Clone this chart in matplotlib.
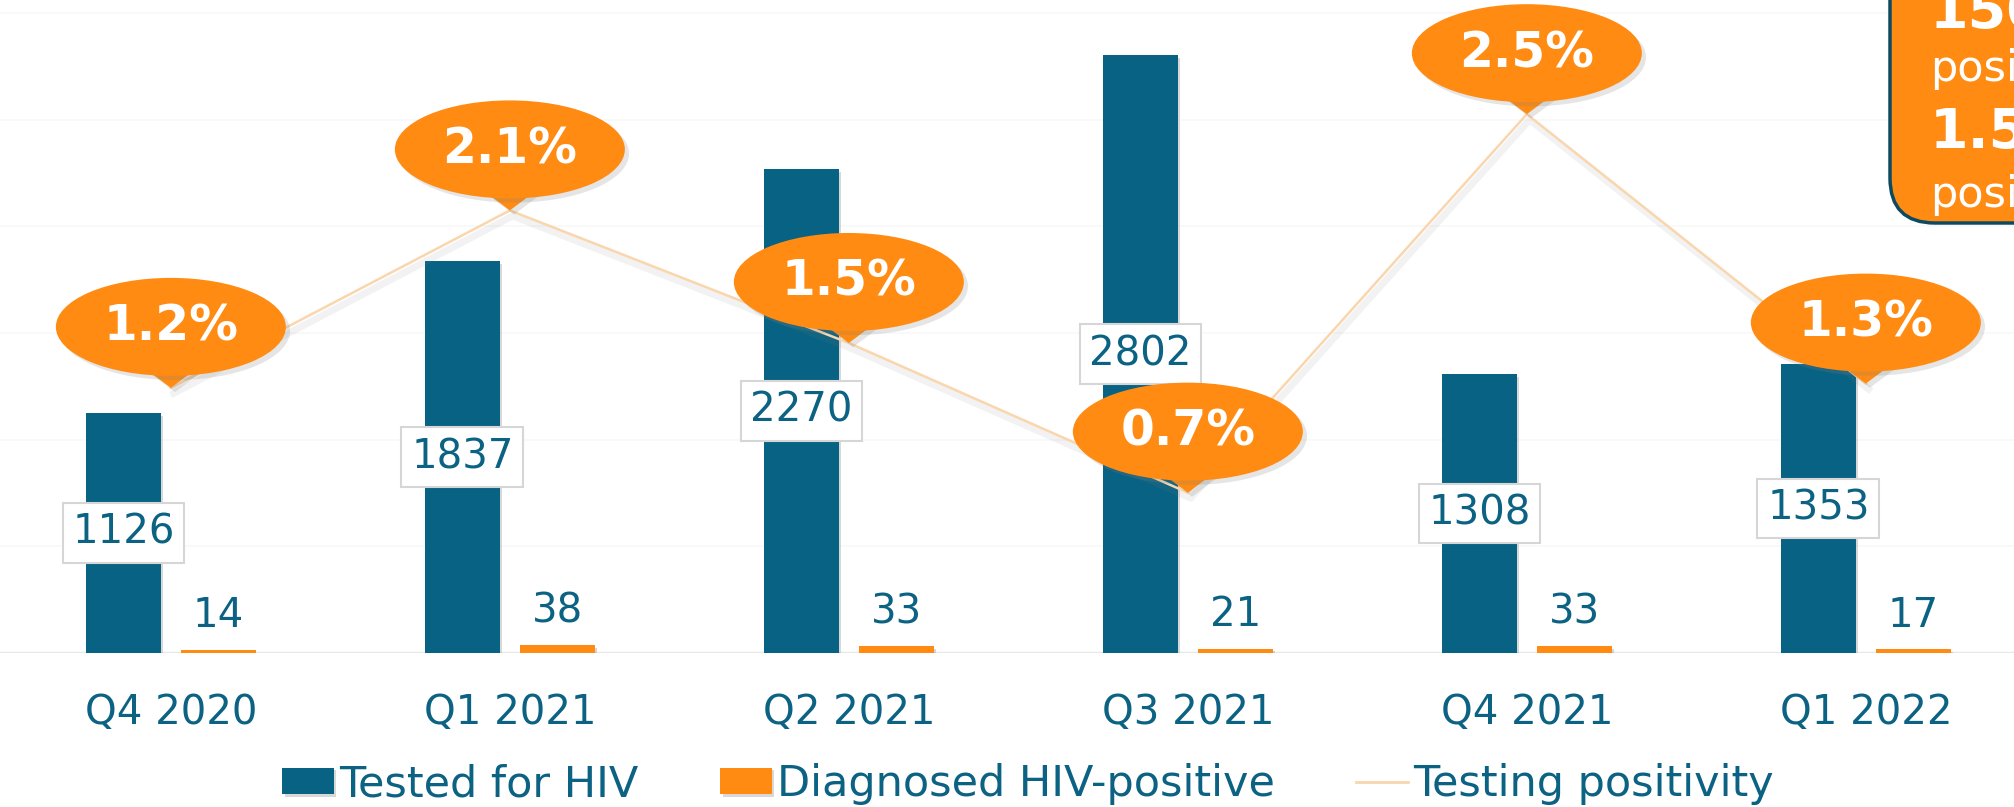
import numpy as np
import matplotlib.pyplot as plt
import matplotlib.patheffects as pe
from matplotlib.patches import Ellipse, Polygon, FancyBboxPatch
from matplotlib.lines import Line2D
from matplotlib.transforms import IdentityTransform

# data
quarters = ["Q4 2020", "Q1 2021", "Q2 2021", "Q3 2021", "Q4 2021", "Q1 2022"]
tested = [1126, 1837, 2270, 2802, 1308, 1353]
diagnosed = [14, 38, 33, 21, 33, 17]
positivity = [1.24, 2.07, 1.45, 0.75, 2.52, 1.26]  # percent
positivity_labels = ["1.2%", "2.1%", "1.5%", "0.7%", "2.5%", "1.3%"]

blue = "#086283"
orange = "#FF8B12"
teal_text = "#0B6282"
line_col = "#F9D6AE"

fig = plt.figure(figsize=(20.15, 8.07), dpi=100)
ax = fig.add_axes([0, 0.1908, 1, 0.8092])
ax.set_xlim(-0.504, 5.44)
ax.set_ylim(0, 3061)

x = np.arange(len(quarters))
shadow = [pe.SimplePatchShadow(offset=(2, -2), shadow_rgbFace="gray", alpha=0.3), pe.Normal()]
b1 = ax.bar(x - 0.14, tested, 0.22, color=blue, zorder=3, path_effects=shadow, label="Tested for HIV")
b2 = ax.bar(x + 0.14, diagnosed, 0.22, color=orange, zorder=3, path_effects=shadow, label="Diagnosed HIV-positive")

ax.bar_label(b1, label_type="center", fontsize=29, color=teal_text, zorder=5,
             bbox=dict(boxstyle="square,pad=0.24", fc="white", ec="#d6d6d6", lw=1.5))
ax.bar_label(b2, padding=10, fontsize=29, color=teal_text)

# very faint gridlines and baseline
ax.set_yticks(np.arange(0, 3001, 500))
ax.yaxis.grid(True, color="#f8f8f8", lw=1.2, zorder=0)
ax.axhline(0, color="#e8e8e8", lw=2.5, zorder=2)
ax.tick_params(axis="y", left=False, right=False, length=0, labelleft=False)
ax.set_xticks(x, quarters)
ax.tick_params(axis="x", length=0, pad=29, labelsize=29, labelcolor=teal_text)
for s in ax.spines.values():
    s.set_visible(False)

# positivity line on a second axis
ax2 = ax.twinx()
ax2.set_ylim(0, 3.054)
ax2.set_yticks([])
ax2.tick_params(length=0)
for s in ax2.spines.values():
    s.set_visible(False)
ax2.plot(x, positivity, color=line_col, lw=1.8, zorder=3,
         path_effects=[pe.SimpleLineShadow(offset=(2, -4), shadow_color="gray", alpha=0.1, linewidth=5),
                       pe.Normal()])

# speech-bubble callouts
call_shadow = [pe.SimplePatchShadow(offset=(3, -3), shadow_rgbFace="gray", alpha=0.2), pe.Normal()]
for xi, v, lab in zip(x, positivity, positivity_labels):
    px, py = ax2.transData.transform((xi, v))
    tail = Polygon([(px, py), (px - 32, py + 24), (px + 32, py + 24)], closed=True,
                   transform=IdentityTransform(), fc=orange, ec="none", zorder=6,
                   clip_on=False, path_effects=call_shadow)
    ell = Ellipse((px, py + 61), 230, 98, transform=IdentityTransform(), fc=orange,
                  ec="none", zorder=6, clip_on=False, path_effects=call_shadow)
    ax2.add_artist(tail)
    ax2.add_artist(ell)
    ax2.annotate(lab, xy=(xi, v), xytext=(0, 61), textcoords="offset pixels",
                 ha="center", va="center", color="white", fontsize=35,
                 fontweight="bold", zorder=7)

# summary box in the top-right corner (cut off by the edge, as in the source)
box = FancyBboxPatch((1890, 584), 300, 300, boxstyle="round,pad=0,rounding_size=45",
                     transform=IdentityTransform(), fc=orange, ec="#0C4A62", lw=2.5,
                     zorder=8, figure=fig)
fig.patches.append(box)
fig.text(1930 / 2015, 1 - 28 / 807, "150", color="white", fontsize=40, fontweight="bold",
         va="baseline", zorder=9)
fig.text(1930 / 2015, 1 - 81 / 807, "positive", color="white", fontsize=31,
         va="baseline", zorder=9)
fig.text(1930 / 2015, 1 - 148 / 807, "1.5%", color="white", fontsize=40, fontweight="bold",
         va="baseline", zorder=9)
fig.text(1930 / 2015, 1 - 207 / 807, "positivity", color="white", fontsize=31,
         va="baseline", zorder=9)

# legend
handles = [b1, b2, Line2D([], [], color=line_col, lw=2)]
labels = ["Tested for HIV", "Diagnosed HIV-positive", "Testing positivity"]
fig.legend(handles, labels, loc="center", bbox_to_anchor=(1028 / 2015, 0.0285), ncol=3,
           frameon=False, fontsize=31, labelcolor=teal_text, handlelength=1.2,
           handleheight=0.56, handletextpad=0.12, columnspacing=1.9, borderpad=0)

fig.savefig("out.png", dpi=100)
